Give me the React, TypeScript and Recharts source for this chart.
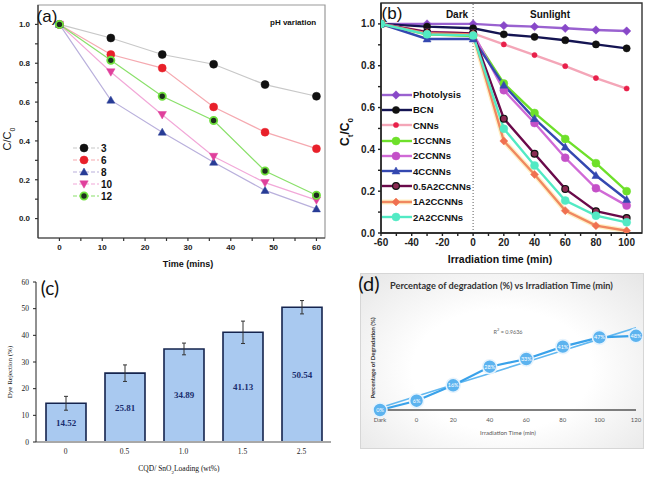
import React from 'react';
import {
  LineChart,
  Line,
  BarChart,
  Bar,
  XAxis,
  YAxis,
  ReferenceLine,
  ReferenceArea,
  Legend,
  ErrorBar,
  LabelList,
} from 'recharts';

const SANS = '"Liberation Sans", Arial, sans-serif';
const SERIF = '"Liberation Serif", "Times New Roman", serif';
const CAL = 'Lato, "Open Sans", sans-serif';

// (a) pH variation
const aTime = [0, 12, 24, 36, 48, 60];
const aPH3 = [1.0, 0.93, 0.845, 0.795, 0.69, 0.63];
const aPH6 = [1.0, 0.845, 0.775, 0.575, 0.445, 0.36];
const aPH8 = [1.0, 0.61, 0.445, 0.29, 0.145, 0.05];
const aPH10 = [1.0, 0.755, 0.535, 0.32, 0.185, 0.095];
const aPH12 = [1.0, 0.815, 0.63, 0.505, 0.245, 0.12];
const aXTicks = [0, 5, 10, 15, 20, 25, 30, 35, 40, 45, 50, 55, 60];
const aYTicks = [0, 0.1, 0.2, 0.3, 0.4, 0.5, 0.6, 0.7, 0.8, 0.9, 1.0];

// (b) dark / sunlight
const bTime = [-60, -30, 0, 20, 40, 60, 80, 100];
const bPhotolysis = [1.0, 1.0, 1.0, 0.992, 0.987, 0.979, 0.971, 0.966];
const bBCN = [1.0, 0.987, 0.979, 0.95, 0.938, 0.922, 0.902, 0.883];
const bCNNs = [1.0, 0.963, 0.955, 0.902, 0.851, 0.798, 0.741, 0.691];
const b1CCNNs = [1.0, 0.95, 0.942, 0.715, 0.574, 0.45, 0.334, 0.2];
const b2CCNNs = [1.0, 0.96, 0.955, 0.683, 0.526, 0.36, 0.214, 0.131];
const b4CCNNs = [1.0, 0.928, 0.928, 0.707, 0.547, 0.411, 0.275, 0.16];
const b05A2CCNNs = [1.0, 0.96, 0.955, 0.547, 0.379, 0.211, 0.104, 0.072];
const b1A2CCNNs = [1.0, 0.955, 0.95, 0.44, 0.28, 0.107, 0.035, 0.011];
const b2A2CCNNs = [1.0, 0.95, 0.945, 0.499, 0.323, 0.155, 0.083, 0.051];
const bXTicks = [-60, -50, -40, -30, -20, -10, 0, 10, 20, 30, 40, 50, 60, 70, 80, 90, 100];
const bYTicks = [0, 0.1, 0.2, 0.3, 0.4, 0.5, 0.6, 0.7, 0.8, 0.9, 1.0];

// (c) dye rejection
const cLoading = ['0', '0.5', '1.0', '1.5', '2.5'];
const cRejection = [14.52, 25.81, 34.89, 41.13, 50.54];
const cError = [2.6, 3.1, 2.2, 4.2, 2.5];
const cYTicks = [0, 10, 20, 30, 40, 50, 60];

// (d) degradation vs time
const dTime = ['Dark', '0', '20', '40', '60', '80', '100', '120'];
const dDegradation = [0, 6, 16, 28, 33, 41, 47, 48];

type MarkerSpec = { shape: string; r: number; fill: string; stroke: string; sw: number };

function Marker({ m, x, y }: { m: MarkerSpec; x: number; y: number }) {
  const { shape, r, fill, stroke, sw } = m;
  if (shape === 'diamond') {
    return <polygon points={`${x},${y - r} ${x + r},${y} ${x},${y + r} ${x - r},${y}`} fill={fill} stroke={stroke} strokeWidth={sw} />;
  }
  if (shape === 'triangle') {
    return <polygon points={`${x},${y - r} ${x + r},${y + r * 0.75} ${x - r},${y + r * 0.75}`} fill={fill} stroke={stroke} strokeWidth={sw} />;
  }
  if (shape === 'down') {
    return <polygon points={`${x},${y + r} ${x + r},${y - r * 0.75} ${x - r},${y - r * 0.75}`} fill={fill} stroke={stroke} strokeWidth={sw} />;
  }
  return <circle cx={x} cy={y} r={r} fill={fill} stroke={stroke} strokeWidth={sw} />;
}

const dotFn = (m: MarkerSpec) => (props: any) => {
  const { cx, cy, index } = props;
  if (cx == null || cy == null) return <g key={`e${index}`} />;
  return <Marker key={`d${index}`} m={m} x={cx} y={cy} />;
};

function Txt({ x, y, children, size = 10, weight = 400, rotate = 0, family = SANS, color = '#111', anchor = 'middle' }: any) {
  const tx = anchor === 'start' ? '0' : anchor === 'end' ? '-100%' : '-50%';
  return (
    <div
      style={{
        position: 'absolute',
        left: x,
        top: y,
        transform: `translate(${tx}, -50%) rotate(${rotate}deg)`,
        fontSize: size,
        fontWeight: weight,
        fontFamily: family,
        color,
        whiteSpace: 'nowrap',
        lineHeight: 1,
      }}
    >
      {children}
    </div>
  );
}

const aSeries = [
  { key: 'p3', name: '3', values: aPH3, line: '#c8c8c8', m: { shape: 'circle', r: 4, fill: '#111', stroke: '#111', sw: 0.5 } },
  { key: 'p6', name: '6', values: aPH6, line: '#f5a9b0', m: { shape: 'circle', r: 4, fill: '#e8202a', stroke: '#e8202a', sw: 0.5 } },
  { key: 'p8', name: '8', values: aPH8, line: '#b9b0dc', m: { shape: 'triangle', r: 4, fill: '#283c96', stroke: '#283c96', sw: 0.5 } },
  { key: 'p10', name: '10', values: aPH10, line: '#f2a8d8', m: { shape: 'down', r: 4.2, fill: '#e0409c', stroke: '#e0409c', sw: 0.5 } },
  { key: 'p12', name: '12', values: aPH12, line: '#8ae06a', m: { shape: 'circle', r: 3.6, fill: '#1e2e1e', stroke: '#6ee03c', sw: 1.8 } },
];
const aRows = aTime.map((t, i) => {
  const row: any = { t };
  aSeries.forEach((s) => (row[s.key] = s.values[i]));
  return row;
});

const bSeries = [
  { key: 'ph', name: 'Photolysis', values: bPhotolysis, line: '#9a62d0', m: { shape: 'diamond', r: 4.2, fill: '#8848c8', stroke: '#8848c8', sw: 0.5 } },
  { key: 'bcn', name: 'BCN', values: bBCN, line: '#141452', m: { shape: 'circle', r: 3.6, fill: '#111', stroke: '#111', sw: 0.5 } },
  { key: 'cnn', name: 'CNNs', values: bCNNs, line: '#f4a6b8', m: { shape: 'circle', r: 2.6, fill: '#e8204a', stroke: '#e8204a', sw: 0.5 } },
  { key: 'c1', name: '1CCNNs', values: b1CCNNs, line: '#6ee02a', m: { shape: 'circle', r: 4, fill: '#6ee02a', stroke: '#6ee02a', sw: 0.5 } },
  { key: 'c2', name: '2CCNNs', values: b2CCNNs, line: '#d06ad6', m: { shape: 'circle', r: 4, fill: '#c450c8', stroke: '#c450c8', sw: 0.5 } },
  { key: 'c4', name: '4CCNNs', values: b4CCNNs, line: '#3448b0', m: { shape: 'triangle', r: 4, fill: '#3448b0', stroke: '#3448b0', sw: 0.5 } },
  { key: 'a05', name: '0.5A2CCNNs', values: b05A2CCNNs, line: '#6a0a4a', m: { shape: 'circle', r: 3.4, fill: '#8a2a52', stroke: '#111', sw: 1.2 } },
  { key: 'a1', name: '1A2CCNNs', values: b1A2CCNNs, line: '#f08860', m: { shape: 'diamond', r: 4, fill: '#f07050', stroke: '#f07050', sw: 0.5 } },
  { key: 'a2', name: '2A2CCNNs', values: b2A2CCNNs, line: '#52eac4', m: { shape: 'circle', r: 4, fill: '#52eac4', stroke: '#52eac4', sw: 0.5 } },
];
const bRows = bTime.map((t, i) => {
  const row: any = { t };
  bSeries.forEach((s) => (row[s.key] = s.values[i]));
  return row;
});

const cRows = cLoading.map((l, i) => ({ l, v: cRejection[i], err: cError[i] }));

// least-squares trendline over the category index, like the spreadsheet trendline
const dN = dDegradation.length;
const dMx = (dN - 1) / 2;
const dMy = dDegradation.reduce((a, b) => a + b, 0) / dN;
const dSlope =
  dDegradation.reduce((a, y, i) => a + (i - dMx) * (y - dMy), 0) /
  dDegradation.reduce((a, _y, i) => a + (i - dMx) * (i - dMx), 0);
const dRows = dTime.map((l, i) => ({ l, v: dDegradation[i], trend: dMy + dSlope * (i - dMx) }));

function LegendA() {
  return (
    <div>
      {aSeries.map((s) => (
        <div key={s.key} style={{ display: 'flex', alignItems: 'center', height: 12 }}>
          <svg width={26} height={12}>
            <line x1={0} y1={6} x2={26} y2={6} stroke={s.line} strokeWidth={1.2} strokeDasharray="4 2" />
            <Marker m={s.m} x={11} y={6} />
          </svg>
          <span style={{ fontSize: 10, fontWeight: 700, fontFamily: SANS, marginLeft: 2, color: '#111' }}>{s.name}</span>
        </div>
      ))}
    </div>
  );
}

function LegendB() {
  return (
    <div style={{ background: '#fff', paddingBottom: 4 }}>
      {bSeries.map((s) => (
        <div key={s.key} style={{ display: 'flex', alignItems: 'center', height: 15.3 }}>
          <svg width={30} height={14}>
            {s.key === 'a1' && <line x1={0} y1={7} x2={30} y2={7} stroke="#fff0c4" strokeWidth={5} />}
            <line x1={0} y1={7} x2={30} y2={7} stroke={s.line} strokeWidth={2.4} />
            <Marker m={s.m} x={14} y={7} />
          </svg>
          <span style={{ fontSize: 9.5, fontWeight: 700, fontFamily: SANS, marginLeft: 1, color: '#111' }}>{s.name}</span>
        </div>
      ))}
    </div>
  );
}

function PanelA() {
  const tick = { fontSize: 8, fontWeight: 700, fill: '#222', fontFamily: SANS };
  return (
    <div style={{ position: 'absolute', left: 0, top: 0 }}>
      <LineChart width={330} height={275} data={aRows} margin={{ top: 5, right: 5, left: 8, bottom: 12 }}>
        <ReferenceArea x1={-5} x2={62} y1={-0.1} y2={1.1} fill="none" stroke="#9a9a9a" strokeWidth={1.2} />
        <XAxis
          type="number"
          dataKey="t"
          domain={[-5, 62]}
          ticks={aXTicks}
          tickFormatter={(v: number) => (v % 10 === 0 ? String(v) : '')}
          height={25}
          tickSize={3}
          tickMargin={3}
          stroke="#333"
          strokeWidth={1.2}
          tick={tick}
          interval={0}
          allowDataOverflow
        />
        <YAxis
          type="number"
          domain={[-0.1, 1.1]}
          ticks={aYTicks}
          tickFormatter={(v: number) => (Math.round(v * 10) % 2 === 0 ? v.toFixed(1) : '')}
          width={30}
          tickSize={3}
          tickMargin={5}
          stroke="#333"
          strokeWidth={1.2}
          tick={tick}
          interval={0}
          allowDataOverflow
        />
        <Legend
          layout="vertical"
          align="center"
          verticalAlign="middle"
          content={() => <LegendA />}
          wrapperStyle={{ left: 73, top: 142, width: 60 }}
        />
        {aSeries.map((s) => (
          <Line
            key={s.key}
            type="linear"
            dataKey={s.key}
            name={s.name}
            stroke={s.line}
            strokeWidth={1.2}
            dot={dotFn(s.m)}
            activeDot={false}
            isAnimationActive={false}
          />
        ))}
      </LineChart>
    </div>
  );
}

function PanelB() {
  const tick = { fontSize: 10, fontWeight: 700, fill: '#222', fontFamily: SANS };
  return (
    <div style={{ position: 'absolute', left: 330, top: 0 }}>
      <LineChart width={325} height={270} data={bRows} margin={{ top: 3, right: 13, left: 11, bottom: 12 }}>
        <ReferenceArea x1={-60} x2={110} y1={0} y2={1.1} fill="none" stroke="#333" strokeWidth={1.4} />
        <ReferenceLine x={0} stroke="#777" strokeDasharray="1 2" strokeWidth={1.2} />
        <XAxis
          type="number"
          dataKey="t"
          domain={[-60, 110]}
          ticks={bXTicks}
          tickFormatter={(v: number) => (v % 20 === 0 ? String(v) : '')}
          height={25}
          tickSize={3}
          tickMargin={3}
          stroke="#222"
          strokeWidth={1.4}
          tick={tick}
          interval={0}
          allowDataOverflow
        />
        <YAxis
          type="number"
          domain={[0, 1.1]}
          ticks={bYTicks}
          tickFormatter={(v: number) => (Math.round(v * 10) % 2 === 0 ? v.toFixed(1) : '')}
          width={40}
          tickSize={3}
          tickMargin={3}
          stroke="#222"
          strokeWidth={1.4}
          tick={tick}
          interval={0}
          allowDataOverflow
        />
        <Line
          key="a1halo"
          type="linear"
          dataKey="a1"
          stroke="#fff0c4"
          strokeWidth={5}
          dot={false}
          activeDot={false}
          legendType="none"
          isAnimationActive={false}
        />
        {bSeries.map((s) => (
          <Line
            key={s.key}
            type="linear"
            dataKey={s.key}
            name={s.name}
            stroke={s.line}
            strokeWidth={2.4}
            dot={dotFn(s.m)}
            activeDot={false}
            isAnimationActive={false}
          />
        ))}
        <Legend
          layout="vertical"
          align="center"
          verticalAlign="middle"
          content={() => <LegendB />}
          wrapperStyle={{ left: 52, top: 87, width: 90 }}
        />
      </LineChart>
    </div>
  );
}

function PanelC() {
  const tick = { fontSize: 7.5, fill: '#222', fontFamily: SERIF };
  return (
    <div style={{ position: 'absolute', left: 0, top: 270 }}>
      <BarChart width={335} height={208} data={cRows} margin={{ top: 12, right: 4, left: 8, bottom: 16 }}>
        <XAxis
          dataKey="l"
          height={20}
          tickLine={false}
          tickSize={0}
          tickMargin={7}
          stroke="#a8a8a8"
          strokeWidth={2}
          tick={tick}
        />
        <YAxis
          type="number"
          domain={[0, 60]}
          ticks={cYTicks}
          width={28}
          tickSize={3}
          tickMargin={4}
          stroke="#222"
          tick={tick}
          interval={0}
        />
        <Bar dataKey="v" fill="#a9c9f0" stroke="#15244e" strokeWidth={1.6} barSize={40} isAnimationActive={false}>
          <ErrorBar dataKey="err" width={2} stroke="#333" strokeWidth={1} direction="y" />
          <LabelList
            dataKey="v"
            position="center"
            content={(p: any) => (
              <text
                x={p.x + p.width / 2}
                y={p.y + p.height / 2}
                dy={3}
                textAnchor="middle"
                fontSize={9}
                fontWeight={700}
                fontFamily={SERIF}
                fill="#1a2e6e"
              >
                {Number(p.value).toFixed(2)}
              </text>
            )}
          />
        </Bar>
      </BarChart>
    </div>
  );
}

function PanelD() {
  return (
    <>
      <div
        style={{
          position: 'absolute',
          left: 360,
          top: 273,
          width: 282,
          height: 174,
          background: 'radial-gradient(ellipse at 50% 55%, #ffffff 45%, #e6e6e6 100%)',
          border: '1px solid #d6d6d6',
        }}
      />
      <div style={{ position: 'absolute', left: 360, top: 273 }}>
        <LineChart width={283} height={175} data={dRows} margin={{ top: 52, right: 7, left: 20, bottom: 24 }}>
          <XAxis
            dataKey="l"
            height={14}
            tickLine={false}
            tickSize={0}
            tickMargin={8}
            stroke="#555"
            strokeWidth={1.6}
            tick={{ fontSize: 6, fill: '#555', fontFamily: CAL }}
            interval={0}
          />
          <YAxis hide type="number" domain={[0, 55]} />
          <Line
            type="linear"
            dataKey="trend"
            stroke="#62b8f0"
            strokeWidth={1.6}
            dot={false}
            activeDot={false}
            isAnimationActive={false}
          />
          <Line
            type="linear"
            dataKey="v"
            stroke="#3aa2ea"
            strokeWidth={2.2}
            dot={dotFn({ shape: 'circle', r: 7, fill: '#5cb3ef', stroke: '#e6f3fd', sw: 1.6 })}
            activeDot={false}
            isAnimationActive={false}
          >
            <LabelList
              dataKey="v"
              content={(p: any) => (
                <text x={p.x} y={p.y} dy={2} textAnchor="middle" fontSize={5.5} fill="#fff" fontFamily={CAL}>
                  {`${p.value}%`}
                </text>
              )}
            />
          </Line>
        </LineChart>
      </div>
    </>
  );
}

export default function App() {
  return (
    <div
      style={{
        position: 'absolute',
        left: 0,
        top: 0,
        width: 655,
        height: 478,
        background: '#fff',
        overflow: 'hidden',
        fontFamily: SANS,
      }}
    >
      <PanelA />
      <PanelB />
      <PanelC />
      <PanelD />

      {/* panel (a) texts */}
      <Txt x={47} y={16} size={17}>(a)</Txt>
      <Txt x={270} y={23} size={8} weight={700} anchor="start">pH variation</Txt>
      <Txt x={9} y={139} size={11} rotate={-90}>
        C/C<sub style={{ fontSize: 7 }}>0</sub>
      </Txt>
      <Txt x={188} y={264} size={9} weight={700}>Time (mins)</Txt>

      {/* panel (b) texts */}
      <Txt x={392} y={13} size={17}>(b)</Txt>
      <Txt x={457} y={15} size={10} weight={700}>Dark</Txt>
      <Txt x={550} y={15} size={10} weight={700}>Sunlight</Txt>
      <Txt x={347} y={132} size={12} weight={700} rotate={-90}>
        C<sub style={{ fontSize: 8 }}>t</sub>/C<sub style={{ fontSize: 8 }}>0</sub>
      </Txt>
      <Txt x={500} y={259} size={10.5} weight={700}>Irradiation time (min)</Txt>

      {/* panel (c) texts */}
      <Txt x={50} y={287} size={19} family={CAL}>(c)</Txt>
      <Txt x={10} y={372} size={7} family={SERIF} rotate={-90}>Dye Rejection (%)</Txt>
      <Txt x={179} y={470} size={7.5} family={SERIF}>
        CQD/ SnO<sub style={{ fontSize: 5 }}>2</sub>Loading (wt%)
      </Txt>

      {/* panel (d) texts */}
      <Txt x={369} y={283} size={20} family={CAL}>(d)</Txt>
      <Txt x={390} y={286} size={9.2} weight={700} family={CAL} color="#333" anchor="start">
        Percentage of degradation (%) vs Irradiation Time (min)
      </Txt>
      <Txt x={373} y={358} size={6} weight={700} family={CAL} color="#333" rotate={-90}>
        Percentage of Degradation (%)
      </Txt>
      <Txt x={508} y={332} size={5.5} family={CAL} color="#666">
        R<sup style={{ fontSize: 4 }}>2</sup> = 0.9636
      </Txt>
      <Txt x={508} y={433} size={6} family={CAL} color="#555">Irradiation Time (min)</Txt>
    </div>
  );
}
